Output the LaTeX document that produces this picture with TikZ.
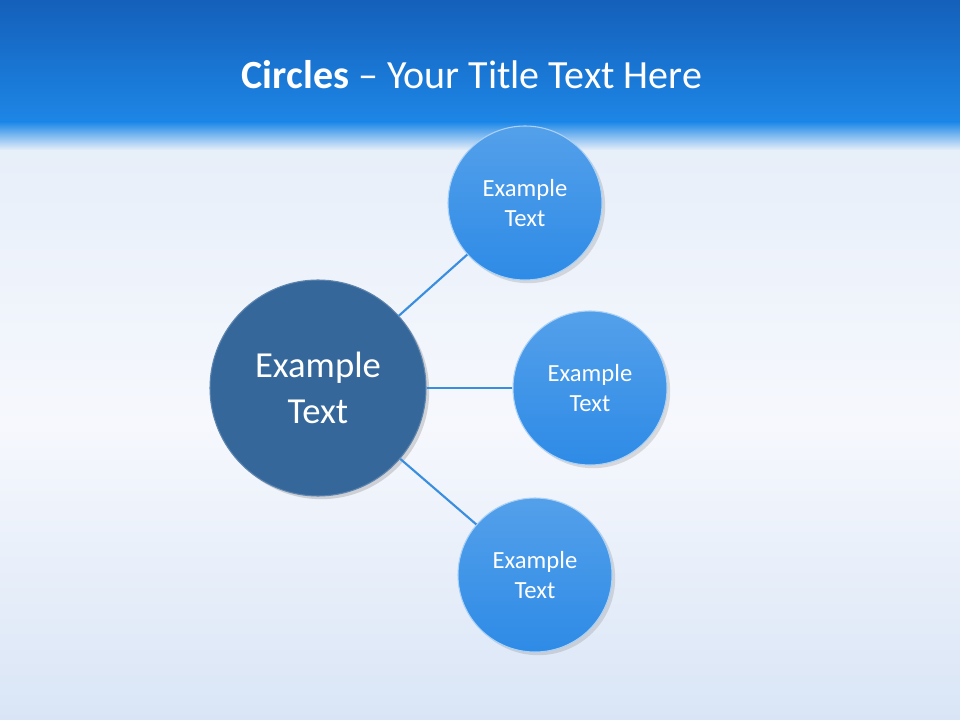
\documentclass[tikz,border=0pt]{standalone}
\usepackage{fontspec}
\setmainfont{Carlito}
\usetikzlibrary{shadows}
\definecolor{topblue}{HTML}{1460BA}
\definecolor{bandblue}{HTML}{1E88E8}
\definecolor{bigc}{HTML}{36679A}
\definecolor{smallc}{HTML}{2E8BE6}
\definecolor{linec}{HTML}{3A8EE0}
\definecolor{bgA}{HTML}{E6EEF9}
\definecolor{bgB}{HTML}{F6F8FD}
\definecolor{bgC}{HTML}{D9E5F6}
\tikzset{
  small/.style={circle,minimum size=115.5pt,inner sep=0pt,draw=white!60!smallc,line width=0.8pt,
    top color=smallc!82!white,bottom color=smallc,
    text=white,align=center,font=\fontsize{18.5}{22.5}\selectfont,drop shadow={opacity=0.25}},
  big/.style={circle,minimum size=162pt,inner sep=0pt,draw=bigc!80!white,line width=0.8pt,
    fill=bigc,text=white,align=center,font=\fontsize{27.5}{34}\selectfont,drop shadow={opacity=0.3}},
  conn/.style={draw=linec,line width=1.6pt}
}
\begin{document}
\begin{tikzpicture}[x=0.75pt,y=-0.75pt]
\useasboundingbox (0,0) rectangle (960,720);
\shade[top color=bgA,bottom color=bgC,middle color=bgB] (0,128) rectangle (960,720);
\shade[top color=topblue,bottom color=bandblue] (0,0) rectangle (960,128);
\shade[top color=bandblue,bottom color=bgA] (0,122) rectangle (960,150);
\node[text=white,font=\fontsize{30}{36}\selectfont] (title) at (472,75) {\textbf{Circles} – Your Title Text Here};
\node[big] (c) at (318,388) {Example\\Text};
\node[small] (a) at (525,203) {Example\\Text};
\node[small] (b) at (590,388) {Example\\Text};
\node[small] (d) at (535,575) {Example\\Text};
\draw[conn] (c) -- (a);
\draw[conn] (c) -- (b);
\draw[conn] (c) -- (d);
\end{tikzpicture}
\end{document}
